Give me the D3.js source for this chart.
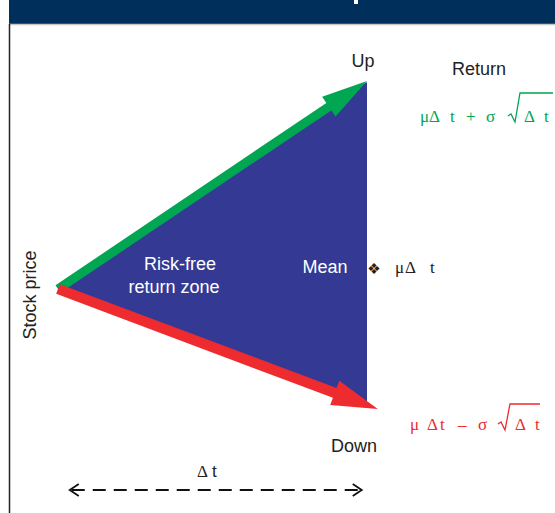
<!DOCTYPE html>
<html>
<head>
<meta charset="utf-8">
<script src="https://cdn.jsdelivr.net/npm/d3@7"></script>
<style>
  body { margin: 0; background: #fff; }
  svg { display: block; }
</style>
</head>
<body>
<svg id="chart" width="555" height="513"></svg>
<script>
// binomial step: one period, stock goes up or down
const nodeNames = ['Start', 'Up', 'Down'];
const nodeTime = [0, 1, 1];
const nodePrice = [100, 120, 89.1];

const arrowNames = ['up', 'down'];
const arrowEndTime = [1, 1.035];
const arrowEndPrice = [120.1, 88.4];

const upFormula = ['μ', 'Δ', 't', '+', 'σ', 'Δ', 't'];
const downFormula = ['μ', 'Δ', 't', '–', 'σ', 'Δ', 't'];
const meanFormula = ['μ', 'Δ', 't'];

(function(){
  const svg = d3.select('#chart');
  const W = 555, H = 513;

  const x = d3.scaleLinear().domain([0, 1]).range([58, 367]);
  const y = d3.scaleLinear().domain([100, 120]).range([289, 82]);

  const sans = '"Liberation Sans", Arial, Helvetica, sans-serif';
  const serif = '"Liberation Serif", "Times New Roman", serif';

  // frame: header band + borders
  svg.append('rect').attr('x', 9).attr('y', 0).attr('width', W - 9).attr('height', 24).attr('fill', '#002f5b');
  svg.append('rect').attr('x', 354).attr('y', 0).attr('width', 4).attr('height', 4).attr('fill', '#fff'); // cut-off title glyph
  svg.append('line').attr('x1', 9).attr('x2', W).attr('y1', 24.5).attr('y2', 24.5).attr('stroke', '#c8c8c0').attr('stroke-width', 1.5);
  svg.append('line').attr('x1', 9.5).attr('x2', 9.5).attr('y1', 24).attr('y2', H).attr('stroke', '#222').attr('stroke-width', 1.5);

  // risk-free zone triangle
  const pts = nodeTime.map((t, i) => [x(t), y(nodePrice[i])]);
  svg.append('path')
    .attr('d', d3.line()(pts) + 'Z')
    .attr('fill', '#343a94');

  // arrows as polygons
  function arrowPoly(x0, y0, x1, y1, w, L, hw){
    const dx = x1 - x0, dy = y1 - y0, len = Math.hypot(dx, dy);
    const ux = dx/len, uy = dy/len, nx = -uy, ny = ux;
    const bx = x1 - ux*L, by = y1 - uy*L;
    return [
      [x0 + nx*w, y0 + ny*w], [bx + nx*w, by + ny*w], [bx + nx*hw, by + ny*hw],
      [x1, y1],
      [bx - nx*hw, by - ny*hw], [bx - nx*w, by - ny*w], [x0 - nx*w, y0 - ny*w]
    ];
  }
  const arrowStyle = { up: {color: '#00a651', w: 4.5, L: 46, hw: 12}, down: {color: '#ee2b2f', w: 5.2, L: 46, hw: 13} };
  const x0 = x(nodeTime[0]), y0 = y(nodePrice[0]);
  svg.selectAll('path.arrow').data(arrowNames).join('path')
    .attr('class', 'arrow')
    .attr('d', (d, i) => {
      const s = arrowStyle[d];
      return d3.line()(arrowPoly(x0, y0, x(arrowEndTime[i]), y(arrowEndPrice[i]), s.w, s.L, s.hw)) + 'Z';
    })
    .attr('fill', d => arrowStyle[d].color);

  // labels
  function label(txt, lx, ly, opts){
    return svg.append('text').attr('x', lx).attr('y', ly)
      .attr('text-anchor', (opts && opts.anchor) || 'middle')
      .style('font-family', sans).style('font-size', '18px')
      .style('fill', (opts && opts.fill) || '#222')
      .text(txt);
  }
  label('Up', 363, 67);
  label('Return', 479, 75);
  label('Down', 354, 452);
  label('Risk-free', 180, 270, {fill: '#fff'});
  label('return zone', 174, 293, {fill: '#fff'});
  label('Mean', 325, 273, {fill: '#fff'});
  svg.append('text')
    .attr('transform', 'translate(36,295) rotate(-90)')
    .attr('text-anchor', 'middle')
    .style('font-family', sans).style('font-size', '18px').style('fill', '#222')
    .text('Stock price');

  // formulas (serif symbols with radical drawn as path)
  function formula(symbols, offsets, ox, oy, color, rad){
    const g = svg.append('g').attr('transform', `translate(${ox},${oy})`);
    g.selectAll('text').data(symbols).join('text')
      .attr('x', (d, i) => offsets[i]).attr('y', 0)
      .style('font-family', serif).style('font-size', '17px').style('fill', color)
      .text(d => d);
    if (rad) {
      g.append('path')
        .attr('d', `M${rad[0]},${-6} L${rad[0]+3},${-8} L${rad[0]+7},${0} L${rad[0]+12},${-rad[2]} L${rad[1]},${-rad[2]}`)
        .attr('fill', 'none').attr('stroke', color).attr('stroke-width', 1.3);
    }
    return g;
  }
  formula(upFormula, [0, 9, 30, 46, 66, 104, 124], 420, 122, '#00a651', [88, 133, 29]);
  formula(downFormula, [0, 17, 30, 48, 68, 105, 125], 410, 430, '#ee2b2f', [88, 130, 26]);
  formula(meanFormula, [0, 10, 35], 395, 273, '#222');
  svg.append('text').attr('x', 374).attr('y', 274).attr('text-anchor', 'middle')
    .style('font-family', '"DejaVu Sans", sans-serif').style('font-size', '15px').style('fill', '#222')
    .text('❖');

  // period width marker
  svg.append('text').attr('x', 197).attr('y', 477)
    .style('font-family', serif).style('font-size', '17px').style('fill', '#222')
    .text('Δ');
  svg.append('text').attr('x', 212).attr('y', 477)
    .style('font-family', sans).style('font-size', '17px').style('fill', '#222')
    .text('t');
  const ay = 490, ax0 = x(0.038), ax1 = x(0.983);
  svg.append('line').attr('x1', ax0 + 2).attr('x2', ax1 - 2).attr('y1', ay).attr('y2', ay)
    .attr('stroke', '#111').attr('stroke-width', 2).attr('stroke-dasharray', '13,8');
  svg.append('path')
    .attr('d', `M${ax0+9},${ay-6} L${ax0},${ay} L${ax0+9},${ay+6} M${ax1-9},${ay-6} L${ax1},${ay} L${ax1-9},${ay+6}`)
    .attr('fill', 'none').attr('stroke', '#111').attr('stroke-width', 1.8);
})();
</script>
</body>
</html>
